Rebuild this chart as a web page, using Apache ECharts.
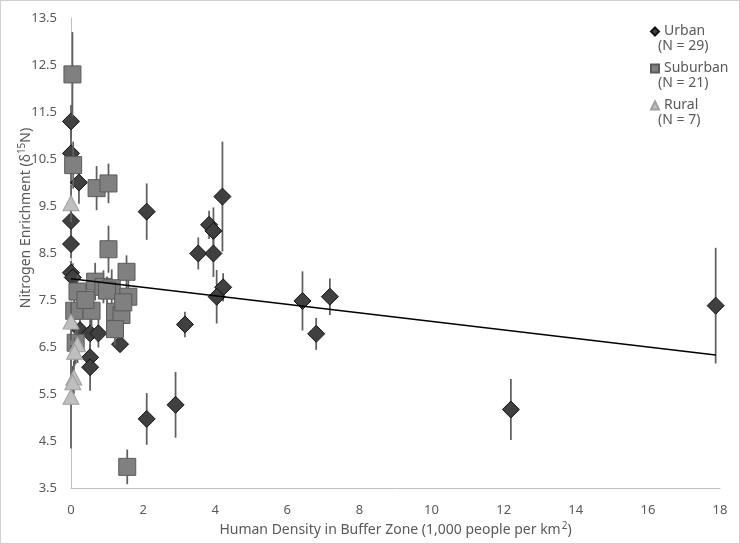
<!DOCTYPE html>
<html><head><meta charset="utf-8">
<script src="https://cdn.jsdelivr.net/npm/echarts@6/dist/echarts.min.js"></script>
<style>html,body{margin:0;padding:0;background:#fff}#c{width:740px;height:544px}#f{position:absolute;left:0;top:0;width:740px;height:544px;box-sizing:border-box;border:1px solid #d0d0d0;pointer-events:none}</style>
</head><body><div id="c"></div><div id="f"></div>
<script>
// ---- data ----
const urbanX   = [0, 0, 0.22, 0, 0, 2.1, 0, 0.05, 0.25, 0.53, 0.76, 1.36, 0.53, 0.53, 2.1, 2.9, 3.16, 3.53, 3.95, 3.83, 3.95, 4.2, 4.22, 4.04, 6.42, 6.8, 7.18, 12.2, 17.88];
const urbanY   = [11.3, 10.62, 10.0, 9.18, 8.69, 9.38, 8.08, 7.98, 6.86, 6.79, 6.79, 6.56, 6.28, 6.07, 4.97, 5.27, 6.98, 8.49, 8.49, 9.1, 8.97, 9.7, 7.77, 7.57, 7.48, 6.78, 7.57, 5.17, 7.38];
const urbanErr = [0.35, 0.65, 0.45, 0.3, 0.3, 0.6, 0.25, 0.3, 0.3, 0.3, 0.3, 0.15, 0.2, 0.5, 0.55, 0.7, 0.27, 0.34, 0.5, 0.3, 0.5, 1.17, 0.3, 0.57, 0.63, 0.34, 0.39, 0.65, 1.23];

const suburbX   = [0.04, 0.06, 0.71, 1.04, 1.04, 1.54, 0.67, 0.9, 1.13, 0.18, 1.59, 0.09, 0.57, 1.22, 1.4, 1.22, 0.13, 1.56, 1.0, 0.4, 1.45];
const suburbY   = [12.3, 10.37, 9.88, 9.98, 8.58, 8.1, 7.89, 7.78, 7.75, 7.68, 7.57, 7.27, 7.27, 7.25, 7.18, 6.88, 6.59, 3.95, 7.7, 7.5, 7.45];
const suburbErr = [0.9, 0.5, 0.47, 0.42, 0.5, 0.35, 0.4, 0.35, 0.4, 0.35, 0.35, 0.4, 0.35, 0.45, 0.4, 0.35, 0.45, 0.37, 0.3, 0.3, 0.3];

const ruralX   = [0, 0, 0.18, 0.08, 0.05, 0, 0.1];
const ruralY   = [9.56, 7.04, 6.56, 5.85, 5.75, 5.44, 6.4];
const ruralErr = [0.4, 0.4, 0.4, 0.35, 0.35, 1.1, 0.3];

const trendX = [0, 17.88];
const trendY = [7.95, 6.33];

const groupNames = ['Urban', 'Suburban', 'Rural'];
const groupCounts = ['(N = 29)', '(N = 21)', '(N = 7)'];
const xTicks = [0, 2, 4, 6, 8, 10, 12, 14, 16, 18];
const yTicks = [3.5, 4.5, 5.5, 6.5, 7.5, 8.5, 9.5, 10.5, 11.5, 12.5, 13.5];

// ---- build ----
const TXT = '#595959';
const FONT = 'Noto Sans';
function pts(xs, ys, es) { return xs.map((x, i) => [x, ys[i], es[i]]); }
function errSeries(data, z) {
  return {
    type: 'custom', z: z, silent: true, clip: false,
    encode: { x: 0, y: 1 },
    data: data,
    renderItem: function (params, api) {
      const x = api.value(0), y = api.value(1), e = api.value(2);
      const p1 = api.coord([x, y - e]), p2 = api.coord([x, y + e]);
      return { type: 'line', shape: { x1: p1[0], y1: p1[1], x2: p2[0], y2: p2[1] },
               style: { stroke: '#5f5f5f', lineWidth: 1.75 } };
    }
  };
}
const uData = pts(urbanX, urbanY, urbanErr);
const sData = pts(suburbX, suburbY, suburbErr);
const rData = pts(ruralX, ruralY, ruralErr);

const chart = echarts.init(document.getElementById('c'), null, { renderer: 'canvas' });
chart.setOption({
  animation: false,
  backgroundColor: '#fff',
  textStyle: { fontFamily: FONT, color: TXT },
  grid: { left: 71, right: 20, top: 18, bottom: 56, containLabel: false, outerBoundsMode: 'none' },
  xAxis: {
    type: 'value', min: xTicks[0], max: xTicks[xTicks.length - 1], interval: 2,
    axisLine: { show: true, lineStyle: { color: '#bfbfbf', width: 1 } },
    axisTick: { show: false }, splitLine: { show: false },
    axisLabel: { color: TXT, fontSize: 13, margin: 16, fontFamily: FONT },
    name: '{a|Human Density in Buffer Zone (1,000 people per km}{s|2}{a|)}',
    nameLocation: 'middle', nameGap: 33, nameMoveOverlap: false,
    nameTextStyle: { rich: {
      a: { fontSize: 14, color: TXT, fontFamily: FONT },
      s: { fontSize: 10, color: TXT, fontFamily: FONT, padding: [0, 0, 8, 1] } } }
  },
  yAxis: {
    type: 'value', min: yTicks[0], max: yTicks[yTicks.length - 1], interval: 1,
    axisLine: { show: true, lineStyle: { color: '#bfbfbf', width: 1 } },
    axisTick: { show: false }, splitLine: { show: false },
    axisLabel: { color: TXT, fontSize: 13, margin: 14, fontFamily: FONT, formatter: v => v.toFixed(1) },
    name: '{a|Nitrogen Enrichment (δ}{s|15}{a|N)}',
    nameLocation: 'middle', nameGap: 36, nameRotate: 90, nameMoveOverlap: false,
    nameTextStyle: { padding: [0, 0, 0, 70], rich: {
      a: { fontSize: 14, color: TXT, fontFamily: FONT },
      s: { fontSize: 10, color: TXT, fontFamily: FONT, padding: [0, 0, 8, 0] } } }
  },
  legend: {
    orient: 'vertical', left: 645, top: 18, itemWidth: 8, itemHeight: 8, itemGap: 20,
    textStyle: { color: TXT, fontSize: 14, lineHeight: 17, fontFamily: FONT },
    data: [
      { name: groupNames[0], icon: 'diamond' },
      { name: groupNames[1], icon: 'rect' },
      { name: groupNames[2], icon: 'triangle' }
    ]
  },
  graphic: groupCounts.map((t, i) => ({
    type: 'text', left: 658, top: [39, 76, 113][i],
    style: { text: t, fill: TXT, fontSize: 14, fontFamily: FONT }
  })),
  series: [
    errSeries(uData, 2),
    { name: groupNames[0], type: 'scatter', z: 3, clip: false, data: uData, symbol: 'diamond', symbolSize: 17,
      itemStyle: { color: '#404040', borderColor: '#111', borderWidth: 1, opacity: 1 } },
    errSeries(sData, 4),
    { name: groupNames[1], type: 'scatter', z: 5, clip: false, data: sData, symbol: 'rect', symbolSize: 17,
      itemStyle: { color: '#808080', borderColor: '#5a5a5a', borderWidth: 1, opacity: 1 } },
    errSeries(rData, 6),
    { name: groupNames[2], type: 'scatter', z: 7, clip: false, data: rData, symbol: 'triangle', symbolSize: [16, 15],
      itemStyle: { color: '#bfbfbf', borderColor: '#a0a0a0', borderWidth: 1, opacity: 1 } },
    { name: 'trend', type: 'line', z: 8, data: trendX.map((x, i) => [x, trendY[i]]), symbol: 'none',
      lineStyle: { color: '#000', width: 1.5 }, silent: true }
  ]
});
</script></body></html>
